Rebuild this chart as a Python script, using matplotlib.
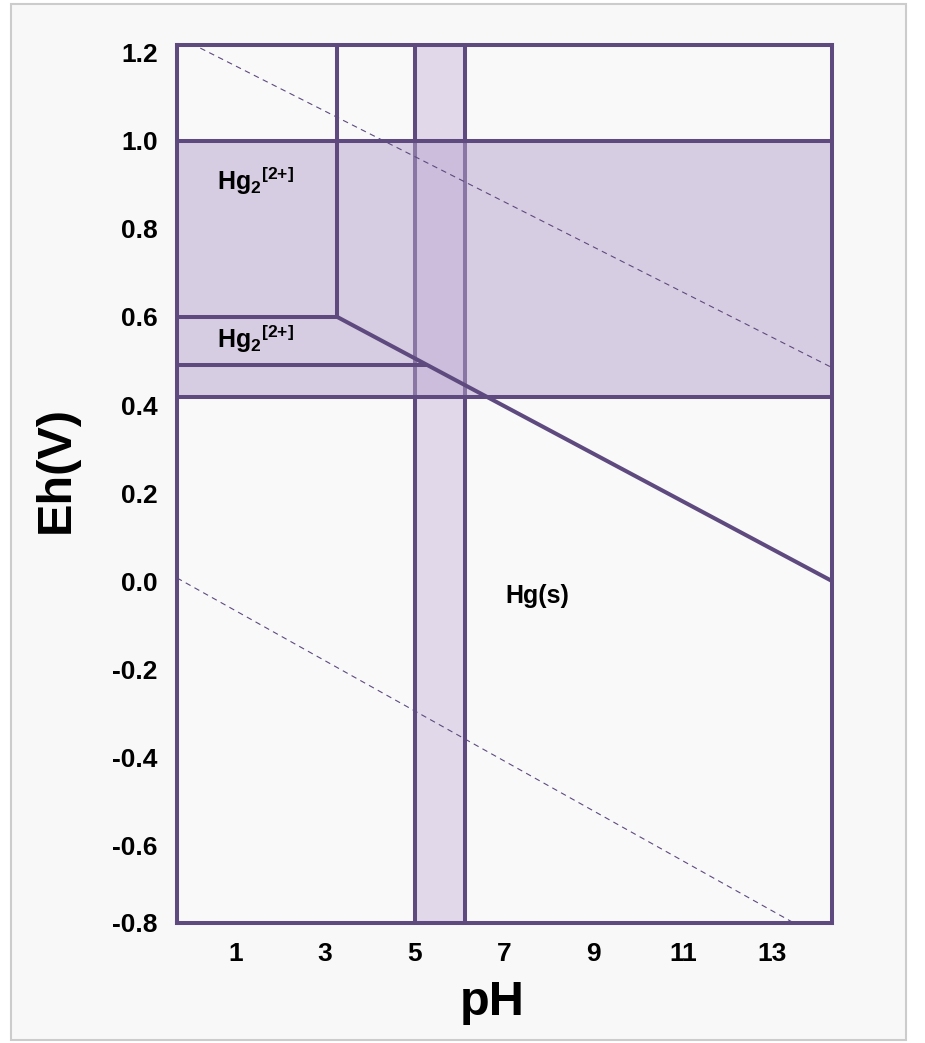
import matplotlib
matplotlib.use("Agg")
import matplotlib.pyplot as plt
from matplotlib.patches import Rectangle

# ---- data ----
x_ticks = [1, 3, 5, 7, 9, 11, 13]
y_ticks = [1.2, 1.0, 0.8, 0.6, 0.4, 0.2, 0.0, -0.2, -0.4, -0.6, -0.8]
y_tick_labels = ["1.2", "1.0", "0.8", "0.6", "0.4", "0.2", "0.0", "-0.2", "-0.4", "-0.6", "-0.8"]
ph_min, ph_max = -0.3, 14.33
eh_min, eh_max = -0.777, 1.218

ph_vertical = 3.28            # vertical boundary
band_ph = [5.02, 6.13]        # shaded vertical band
shade_eh = [0.418, 1.0]       # shaded horizontal region
eh_upper = 1.0
eh_mid = 0.6
eh_low = 0.491
diag_ph = [3.28, 14.33]
diag_eh = [0.6, 0.0]
water_upper_ph = [0.22, 14.33]
water_upper_eh = [1.211, 0.485]
water_lower_ph = [-0.3, 13.48]
water_lower_eh = [0.007, -0.777]

labels = [r"$\mathbf{Hg_2{}^{[2{+}]}}$", r"$\mathbf{Hg_2{}^{[2{+}]}}$", "Hg(s)"]
label_ph = [0.6, 0.6, 7.74]
label_eh = [0.889, 0.53, -0.05]
label_ha = ["left", "left", "center"]

# ---- style ----
plt.rcParams["font.family"] = ["Liberation Sans", "DejaVu Sans"]
plt.rcParams["mathtext.fontset"] = "custom"
plt.rcParams["mathtext.bf"] = "Liberation Sans:bold"
plt.rcParams["mathtext.rm"] = "Liberation Sans"
LINE = "#5e4a7e"
LW = 2.9

fig = plt.figure(figsize=(9.25, 10.43), dpi=100, facecolor="white")
# page frame
frame = Rectangle((11 / 925, 3 / 1043), 895 / 925, 1036 / 1043,
                  transform=fig.transFigure, facecolor="#f8f8f8",
                  edgecolor="#cccccc", linewidth=1.5, zorder=-10)
fig.add_artist(frame)

ax = fig.add_axes([177 / 925, 1 - 923 / 1043, (832 - 177) / 925, (923 - 45) / 1043])
ax.set_zorder(1)
ax.set_facecolor("#f9f9f9")
ax.set_xlim(ph_min, ph_max)
ax.set_ylim(eh_min, eh_max)

# vertical band
ax.axvspan(band_ph[0], band_ph[1], color="#e1d9ea", zorder=1, lw=0)
for b in band_ph:
    ax.axvline(b, color=LINE, lw=LW, zorder=2)

# shaded region (semi-transparent over band)
ax.axhspan(shade_eh[0], shade_eh[1], facecolor=(183 / 255, 163 / 255, 205 / 255), alpha=0.5,
           zorder=3, lw=0)

# boundaries
ax.plot([ph_min, ph_max], [eh_upper, eh_upper], color=LINE, lw=LW, zorder=4, solid_capstyle="butt")
ax.plot([ph_min, ph_max], [shade_eh[0], shade_eh[0]], color=LINE, lw=LW, zorder=4, solid_capstyle="butt")
ax.plot([ph_vertical, ph_vertical], [eh_mid, eh_max], color=LINE, lw=LW, zorder=4, solid_capstyle="butt")
ax.plot([ph_min, ph_vertical], [eh_mid, eh_mid], color=LINE, lw=LW, zorder=4, solid_capstyle="butt")
slope = (diag_eh[1] - diag_eh[0]) / (diag_ph[1] - diag_ph[0])
ph_cross = diag_ph[0] + (eh_low - diag_eh[0]) / slope
ax.plot([ph_min, ph_cross], [eh_low, eh_low], color=LINE, lw=LW, zorder=4, solid_capstyle="butt")
ax.plot(diag_ph, diag_eh, color=LINE, lw=LW, zorder=4, solid_capstyle="round")

# water stability lines
ax.plot(water_upper_ph, water_upper_eh, color=LINE, lw=0.8, ls=(0, (5, 4)), zorder=4)
ax.plot(water_lower_ph, water_lower_eh, color=LINE, lw=0.8, ls=(0, (5, 4)), zorder=4)

for t, x, y, ha in zip(labels, label_ph, label_eh, label_ha):
    ax.text(x, y, t, fontsize=18, fontweight="bold", ha=ha, va="baseline", zorder=6)

for s in ax.spines.values():
    s.set_color(LINE)
    s.set_linewidth(LW)
    s.set_zorder(7)

ax.set_xticks(x_ticks)
ax.set_xticklabels([str(v) for v in x_ticks])
ax.set_yticks([max(v, eh_min) for v in y_ticks])
ax.set_yticklabels(y_tick_labels)
ax.tick_params(length=0, labelsize=19, pad=14)
for lab in ax.get_xticklabels() + ax.get_yticklabels():
    lab.set_fontweight("bold")

ax.set_xlabel("pH", fontsize=35, fontweight="bold")
ax.set_ylabel("Eh(V)", fontsize=35, fontweight="bold")
ax.xaxis.set_label_coords(0.481, -0.091)
ax.xaxis.label.set_va("center")
ax.yaxis.set_label_coords(-0.185, 0.516)
ax.yaxis.label.set_va("center")

fig.savefig("out.png", dpi=100, facecolor="white")
